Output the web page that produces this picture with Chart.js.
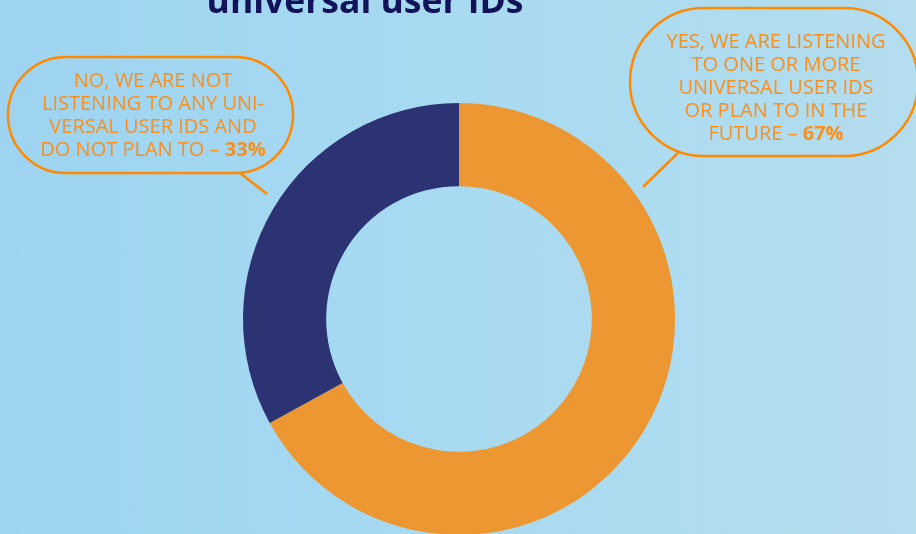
<!DOCTYPE html>
<html>
<head>
<meta charset="utf-8">
<script src="https://cdn.jsdelivr.net/npm/chart.js@4/dist/chart.umd.min.js"></script>
<style>
  html, body {
    margin: 0;
    width: 916px;
    height: 534px;
    overflow: hidden;
    background: linear-gradient(to right, #9ed4f1, #a8daf1 50%, #b4ddee);
  }
  canvas { display: block; }
</style>
</head>
<body>
<canvas id="chart" width="916" height="540"></canvas>
<script>
const titleText = 'universal user IDs';
const categories = ['Yes', 'No'];
const shares = [67, 33];
const sliceColors = ['#ec9731', '#2c3373'];
const calloutLines = [
  ['YES, WE ARE LISTENING', 'TO ONE OR MORE', 'UNIVERSAL USER IDS', 'OR PLAN TO IN THE', 'FUTURE \u2013 '],
  ['NO, WE ARE NOT', 'LISTENING TO ANY UNI-', 'VERSAL USER IDS AND', 'DO NOT PLAN TO \u2013 ']
];

const ORANGE_TEXT = '#f7901e';
const ORANGE_LINE = '#ff8a00';

// speech bubbles: box, text centre, first line y and the tail
const bubbles = [
  { x: 630, y: 8, w: 288, h: 148, cx: 776, ty: 42, tail: [679, 152, 643, 187] },
  { x: 8, y: 57, w: 285, h: 116, cx: 153, ty: 81, tail: [240, 173, 267, 194] }
];

const calloutPlugin = {
  id: 'callouts',
  afterDraw(chart) {
    const c = chart.ctx;
    c.save();

    // title, clipped by the top of the page
    c.fillStyle = '#12135a';
    c.font = 'bold 35.5px "Open Sans"';
    c.textAlign = 'center';
    c.textBaseline = 'alphabetic';
    c.fillText(titleText, 365, 13);

    bubbles.forEach((b, i) => {
      c.strokeStyle = ORANGE_LINE;
      c.lineWidth = 2.5;
      c.beginPath();
      c.roundRect(b.x, b.y, b.w, b.h, b.h / 2);
      c.stroke();
      c.beginPath();
      c.moveTo(b.tail[0], b.tail[1]);
      c.lineTo(b.tail[2], b.tail[3]);
      c.stroke();

      const lines = calloutLines[i];
      const pct = chart.data.datasets[0].data[i] + '%';
      const regular = '20px "Open Sans"';
      const bold = 'bold 20px "Open Sans"';
      c.fillStyle = ORANGE_TEXT;
      c.textBaseline = 'middle';
      lines.forEach((line, j) => {
        const y = b.ty + j * 23;
        if (j < lines.length - 1) {
          c.textAlign = 'center';
          c.font = regular;
          c.fillText(line, b.cx, y);
        } else {
          // last line ends with the bold share
          c.font = regular;
          const w1 = c.measureText(line).width;
          c.font = bold;
          const w2 = c.measureText(pct).width;
          const x0 = b.cx - (w1 + w2) / 2;
          c.textAlign = 'left';
          c.font = regular;
          c.fillText(line, x0, y);
          c.font = bold;
          c.fillText(pct, x0 + w1, y);
        }
      });
    });
    c.restore();
  }
};

new Chart(document.getElementById('chart'), {
  type: 'doughnut',
  data: {
    labels: categories,
    datasets: [{
      data: shares,
      backgroundColor: sliceColors,
      borderWidth: 0
    }]
  },
  options: {
    responsive: false,
    animation: false,
    cutout: '61.5%',
    layout: { padding: { top: 103, bottom: 5, left: 2, right: 0 } },
    plugins: {
      legend: { display: false },
      tooltip: { enabled: false }
    }
  },
  plugins: [calloutPlugin]
});
</script>
</body>
</html>
